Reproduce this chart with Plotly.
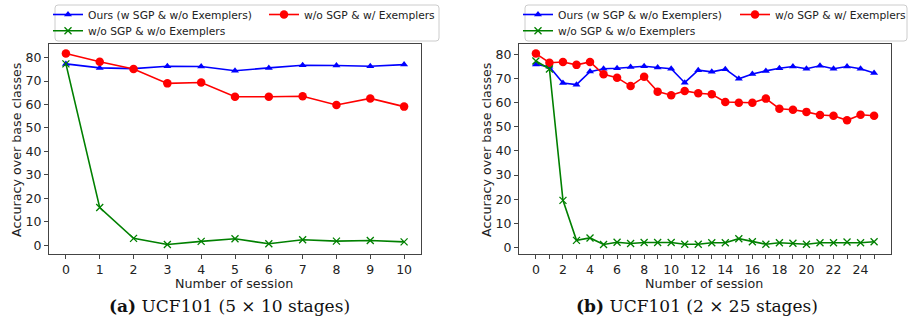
import plotly.graph_objects as go

# ---------------- data ----------------
sessions_a = list(range(11))
ours_a = [77.3, 75.6, 75.3, 76.3, 76.2, 74.4, 75.6, 76.7, 76.6, 76.3, 77.0]
exem_a = [81.7, 78.2, 75.1, 69.0, 69.4, 63.3, 63.3, 63.5, 59.8, 62.6, 59.1]
none_a = [77.3, 16.1, 3.0, 0.4, 1.7, 2.8, 0.7, 2.4, 1.8, 2.1, 1.5]

sessions_b = list(range(26))
ours_b = [75.9, 74.9, 68.2, 67.5, 72.9, 74.1, 74.3, 74.8, 75.1, 74.6, 74.1, 68.3,
          73.5, 72.8, 73.9, 69.9, 71.9, 73.2, 74.3, 75.0, 74.1, 75.3, 74.1, 75.0, 74.1, 72.3]
exem_b = [80.4, 76.6, 76.9, 75.7, 76.9, 71.8, 70.4, 66.9, 70.8, 64.6, 63.1, 64.9,
          63.9, 63.5, 60.3, 60.0, 60.0, 61.7, 57.5, 57.1, 56.2, 54.9, 54.6, 52.7, 55.0, 54.6]
none_b = [77.3, 74.0, 19.5, 2.9, 3.9, 1.2, 2.1, 1.6, 2.0, 2.0, 2.0, 1.3,
          1.3, 1.9, 1.9, 3.6, 2.3, 1.3, 1.9, 1.7, 1.3, 1.9, 1.9, 2.2, 1.9, 2.3]

names = ["Ours (w SGP & w/o Exemplers)", "w/o SGP & w/ Exemplers", "w/o SGP & w/o Exemplers"]
yticks = list(range(0, 90, 10))
xticks_a = sessions_a
xticks_b = sessions_b
xtext_b = [str(v) if v % 2 == 0 else "" for v in sessions_b]
captions = ["<b>(a)</b> UCF101 (5 × 10 stages)", "<b>(b)</b> UCF101 (2 × 25 stages)"]

# ---------------- figure ----------------
W, H = 908, 320
BLUE, RED, GREEN = "#0000ff", "#ff0000", "#008000"
FONT = "DejaVu Sans"

def px(x):
    return x / W

def py(y):
    return 1 - y / H

fig = go.Figure()

def add_series(xs, ys, name, color, symbol, size, xa, ya, legend, mline=None):
    marker = dict(symbol=symbol, size=size, color=color)
    if mline is not None:
        marker["line"] = dict(width=mline, color=color)
    fig.add_trace(go.Scatter(
        x=xs, y=ys, mode="lines+markers", name=name,
        line=dict(color=color, width=1.6), marker=marker,
        xaxis=xa, yaxis=ya, legend=legend, showlegend=True))

add_series(sessions_a, ours_a, names[0], BLUE, "triangle-up", 7, "x", "y", "legend")
add_series(sessions_a, exem_a, names[1], RED, "circle", 8.5, "x", "y", "legend2")
add_series(sessions_a, none_a, names[2], GREEN, "x-thin-open", 7, "x", "y", "legend3", 1.3)
add_series(sessions_b, ours_b, names[0], BLUE, "triangle-up", 7, "x2", "y2", "legend4")
add_series(sessions_b, exem_b, names[1], RED, "circle", 8.5, "x2", "y2", "legend5")
add_series(sessions_b, none_b, names[2], GREEN, "x-thin-open", 7, "x2", "y2", "legend6", 1.3)

axis_common = dict(showline=True, mirror=True, linecolor="#444444", linewidth=1,
                   ticks="outside", ticklen=4, tickwidth=1, tickcolor="#444444",
                   showgrid=False, zeroline=False, automargin=False,
                   tickfont=dict(family=FONT, size=12.5, color="#222222"))

top, bottom = 44, 254
fig.update_layout(
    width=W, height=H, margin=dict(l=0, r=0, t=0, b=0, autoexpand=False),
    paper_bgcolor="white", plot_bgcolor="white",
    font=dict(family=FONT, size=12, color="#222222"),
    xaxis=dict(domain=[px(49), px(421)], range=[-0.5, 10.5], tickmode="array",
               tickvals=xticks_a, anchor="y", **axis_common),
    yaxis=dict(domain=[py(bottom), py(top)], range=[-3.67, 85.77], tickmode="array",
               tickvals=yticks, anchor="x", **axis_common),
    xaxis2=dict(domain=[px(519), px(891)], range=[-1.25, 26.25], tickmode="array",
                tickvals=xticks_b, ticktext=xtext_b, anchor="y2", **axis_common),
    yaxis2=dict(domain=[py(bottom), py(top)], range=[-2.76, 84.36], tickmode="array",
                tickvals=yticks, anchor="x2", **axis_common),
)

# legends: one entry per legend object, placed like matplotlib's 2-column layout
leg_font = dict(family=FONT, size=10.7, color="#222222")
def leg(x, y):
    return dict(x=px(x), y=py(y), xref="paper", yref="paper", xanchor="left",
                yanchor="middle", bgcolor="rgba(0,0,0,0)", borderwidth=0,
                font=leg_font, itemclick=False)

fig.update_layout(
    legend=leg(48, 14.5), legend2=leg(264, 14.5), legend3=leg(48, 30.8),
    legend4=leg(518, 14.5), legend5=leg(735, 14.5), legend6=leg(518, 30.8),
)

# legend frames (rounded rectangles)
def rounded_rect(x0, y0, x1, y1, r=3):
    X0, X1 = px(x0), px(x1)
    Y0, Y1 = py(y1), py(y0)  # bottom, top in paper coords
    rx, ry = r / W, r / H
    return (f"M {X0+rx},{Y1} L {X1-rx},{Y1} Q {X1},{Y1} {X1},{Y1-ry} "
            f"L {X1},{Y0+ry} Q {X1},{Y0} {X1-rx},{Y0} L {X0+rx},{Y0} "
            f"Q {X0},{Y0} {X0},{Y0+ry} L {X0},{Y1-ry} Q {X0},{Y1} {X0+rx},{Y1} Z")

for x0, x1 in [(55, 439), (525, 907)]:
    fig.add_shape(type="path", xref="paper", yref="paper",
                  path=rounded_rect(x0, 5, x1, 41),
                  line=dict(color="#cccccc", width=1), fillcolor="rgba(0,0,0,0)")

# axis titles and captions
for cx, ytx in [(234, 16), (704, 486)]:
    fig.add_annotation(text="Number of session", xref="paper", yref="paper",
                       x=px(cx), y=py(283.5), xanchor="center", yanchor="middle",
                       showarrow=False,
                       font=dict(family=FONT, size=12.7, color="#222222"))
    fig.add_annotation(text="Accuracy over base classes", xref="paper", yref="paper",
                       x=px(ytx), y=py(150), xanchor="center", yanchor="middle",
                       textangle=-90, showarrow=False,
                       font=dict(family=FONT, size=12.7, color="#222222"))

for cx, cap in zip([229.5, 696.5], captions):
    fig.add_annotation(text=cap, xref="paper", yref="paper", x=px(cx), y=py(306),
                       xanchor="center", yanchor="middle", showarrow=False,
                       font=dict(family="DejaVu Serif", size=17, color="#111111"))

fig.write_html("out.html",
               config={"displayModeBar": False},
               post_script="document.body.style.margin='0';"
                           "document.body.style.overflow='hidden';")
